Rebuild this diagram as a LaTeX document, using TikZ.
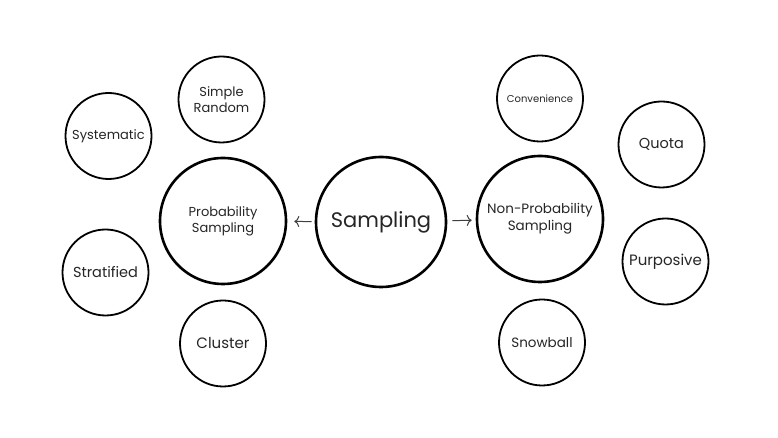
\documentclass[tikz,border=0pt]{standalone}
\usepackage{fontspec}
\setmainfont{Poppins}
\usetikzlibrary{arrows.meta}
\tikzset{bigcirc/.style={circle, draw, line width=2.6pt, minimum size=126pt, inner sep=0pt, align=center, text=black!85},
         smallcirc/.style={circle, draw, line width=1.8pt, minimum size=86pt, inner sep=0pt, align=center, text=black!85},
         branch/.style={-{To[length=5pt, width=11pt]}, line width=1pt, black!75}}

\begin{document}
\begin{tikzpicture}[x=1pt, y=1pt]
            \useasboundingbox[fill=white] (0,0) rectangle (778,438);
            % Central and main branches
            \node[bigcirc, minimum size=130pt, font=\fontsize{21}{24}\selectfont] (sampling) at (381,216) {Sampling};
            \node[bigcirc, font=\fontsize{13}{16}\selectfont] (prob) at (223,217) {Probability\\Sampling};
            \node[bigcirc, font=\fontsize{13.5}{17}\selectfont] (nonprob) at (540,219) {Non-Probability\\Sampling};
            \draw[branch, shorten <=3pt, shorten >=7pt] (sampling) -- (prob);
            \draw[branch, shorten <=5pt, shorten >=4pt] (sampling) -- (nonprob);
            % Probability methods
            \node[smallcirc, font=\fontsize{13}{16}\selectfont] (simple) at (221.5,338.5) {Simple\\Random};
            \node[smallcirc, font=\fontsize{13}{16}\selectfont] (systematic) at (108.5,302) {Systematic};
            \node[smallcirc, font=\fontsize{14.5}{17}\selectfont] (stratified) at (105.5,165.5) {Stratified};
            \node[smallcirc, font=\fontsize{15}{18}\selectfont] (cluster) at (223,94.5) {Cluster};
            % Non-probability methods
            \node[smallcirc, font=\fontsize{10}{12}\selectfont] (convenience) at (540,339.5) {Convenience};
            \node[smallcirc, font=\fontsize{14.5}{17}\selectfont] (quota) at (661.5,293.5) {Quota};
            \node[smallcirc, font=\fontsize{15}{18}\selectfont] (purposive) at (665.5,176.5) {Purposive};
            \node[smallcirc, font=\fontsize{13.5}{16}\selectfont] (snowball) at (542,95.5) {Snowball};
        \end{tikzpicture}
\end{document}
